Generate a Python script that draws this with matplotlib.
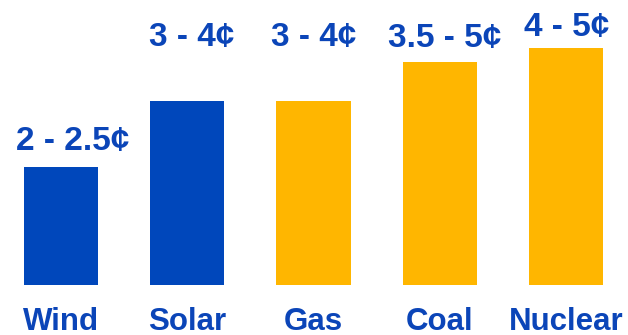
import matplotlib
matplotlib.use("Agg")
import matplotlib.pyplot as plt

categories = ["Wind", "Solar", "Gas", "Coal", "Nuclear"]
cost_mid = [2.25, 3.5, 3.5, 4.25, 4.5]
cost_labels = ["2 - 2.5¢", "3 - 4¢", "3 - 4¢", "3.5 - 5¢", "4 - 5¢"]
is_renewable = [True, True, False, False, False]

BLUE = "#0047BB"
GOLD = "#FFB600"
TEXT = "#0B45B8"
label_dy = [12.2, 39.6, 39.6, 10.8, 8.6]   # points above bar top
label_dx = [8.5, 3.0, 0.0, 3.5, 0.5]

plt.rcParams["font.family"] = ["Liberation Sans", "DejaVu Sans"]

fig = plt.figure(figsize=(6.28, 3.35), dpi=100)
ax = fig.add_axes([0, 50 / 335, 1, 285 / 335])

x = list(range(len(categories)))
colors = [BLUE if r else GOLD for r in is_renewable]
bars = ax.bar(x, cost_mid, width=0.587, color=colors)

for xi, v, lab, dy, dx in zip(x, cost_mid, cost_labels, label_dy, label_dx):
    ax.annotate(lab, (xi, v), xytext=(dx, dy), textcoords="offset points",
                ha="center", va="baseline", fontsize=24, fontweight="bold",
                color=TEXT)

ax.set_xlim(-0.483, 4.49)
ax.set_ylim(0, 5.42)
ax.set_xticks(x)
ax.set_xticklabels(categories, fontsize=22.5, fontweight="bold", color=TEXT)
ax.tick_params(axis="x", length=0, pad=16)
ax.set_yticks([])
for s in ax.spines.values():
    s.set_visible(False)

fig.savefig("out.png", dpi=100)
